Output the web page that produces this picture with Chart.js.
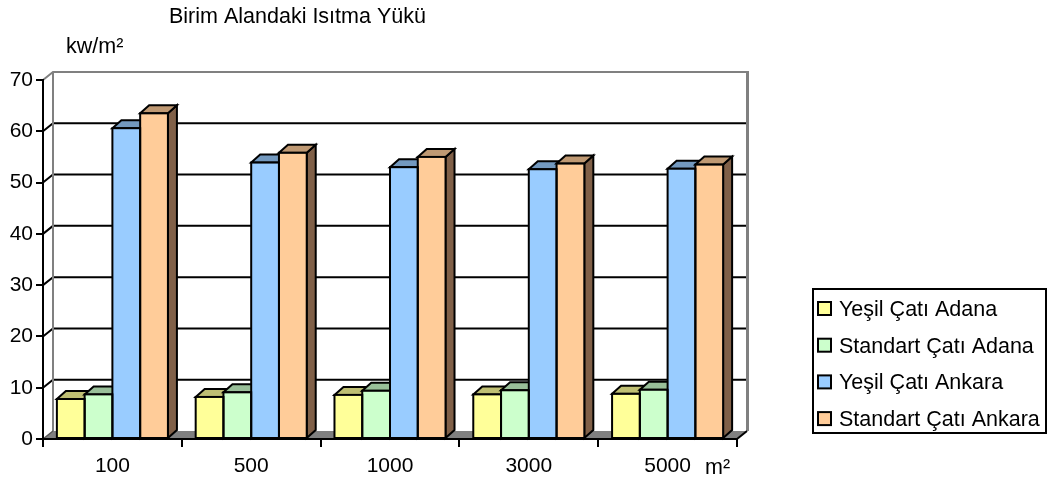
<!DOCTYPE html>
<html>
<head>
<meta charset="utf-8">
<script src="https://cdn.jsdelivr.net/npm/chart.js@4.4.1/dist/chart.umd.min.js"></script>
<style>
  html, body { margin: 0; padding: 0; background: #fff; }
  #wrap { width: 1049px; height: 486px; }
</style>
</head>
<body>
<div id="wrap"><canvas id="chart"></canvas></div>
<script>
// ---- data ----
const categories = ['100', '500', '1000', '3000', '5000'];
const seriesNames = ['Yeşil Çatı Adana', 'Standart Çatı Adana', 'Yeşil Çatı Ankara', 'Standart Çatı Ankara'];
const yesilAdana = [7.8, 8.2, 8.6, 8.7, 8.8];
const standartAdana = [8.7, 9.1, 9.4, 9.5, 9.6];
const yesilAnkara = [60.6, 53.9, 53.0, 52.6, 52.7];
const standartAnkara = [63.5, 55.8, 55.0, 53.7, 53.5];
const yTicks = [0, 10, 20, 30, 40, 50, 60, 70];

const chartTitle = 'Birim Alandaki Isıtma Yükü';
const yUnit = 'kw/m²';
const xUnit = 'm²';

// ---- styles ----
const frontColors = ['#FFFF99', '#CCFFCC', '#99CCFF', '#FFCC99'];
const topColors = ['#BFBF73', '#99BF99', '#7399BF', '#BF9973'];
const sideColors = ['#80804D', '#668066', '#4D6680', '#806048'];
const FONT = "'Liberation Sans', Arial, sans-serif";
const DX = 9, DY = 8;   // bar depth
const WX = 10, WY = 8;  // back wall offset

function poly(ctx, pts, fill, stroke, lw) {
    ctx.beginPath();
    ctx.moveTo(pts[0][0], pts[0][1]);
    for (let k = 1; k < pts.length; k++) ctx.lineTo(pts[k][0], pts[k][1]);
    ctx.closePath();
    if (fill) { ctx.fillStyle = fill; ctx.fill(); }
    if (stroke) { ctx.strokeStyle = stroke; ctx.lineWidth = lw || 2; ctx.stroke(); }
}

const pseudo3d = {
    id: 'pseudo3d',
    // walls, floor and gridlines sit behind the axes
    beforeDraw(chart) {
        const { ctx, chartArea: a, scales: { y } } = chart;
        const left = a.left + WX, right = a.right + WX;
        const top = y.getPixelForValue(70) - WY, bot = y.getPixelForValue(0) - WY;
        ctx.save();
        ctx.lineJoin = 'miter';
        // back wall grid
        yTicks.forEach(v => {
            if (v === 0) return;
            const py = y.getPixelForValue(v);
            ctx.beginPath();
            ctx.moveTo(a.left, py);
            ctx.lineTo(left, py - WY);
            ctx.lineTo(right, py - WY);
            ctx.strokeStyle = v === 70 ? '#808080' : '#000';
            ctx.lineWidth = 2;
            ctx.stroke();
        });
        // wall edges
        ctx.strokeStyle = '#808080';
        ctx.lineWidth = 2;
        ctx.beginPath();
        ctx.moveTo(left, top); ctx.lineTo(left, bot);
        ctx.stroke();
        ctx.lineWidth = 3;
        ctx.beginPath();
        ctx.moveTo(right + 0.5, top - 1); ctx.lineTo(right + 0.5, bot);
        ctx.stroke();
        // floor
        poly(ctx, [[a.left, a.bottom], [left, bot], [right, bot], [a.right, a.bottom]], '#808080');
        ctx.beginPath();
        ctx.moveTo(a.right, a.bottom); ctx.lineTo(right, bot);
        ctx.strokeStyle = '#000'; ctx.lineWidth = 2; ctx.stroke();
        ctx.beginPath();
        ctx.moveTo(a.left, a.bottom); ctx.lineTo(left, bot);
        ctx.strokeStyle = '#555'; ctx.lineWidth = 1.5; ctx.stroke();
        ctx.restore();
    },
    // tops and sides first, fronts are drawn by Chart.js over them
    beforeDatasetsDraw(chart) {
        const ctx = chart.ctx;
        ctx.save();
        ctx.lineJoin = 'miter';
        categories.forEach((c, j) => {
            chart.data.datasets.forEach((ds, i) => {
                const el = chart.getDatasetMeta(i).data[j];
                const x0 = el.x - el.width / 2, x1 = el.x + el.width / 2;
                const yt = el.y, yb = el.base;
                poly(ctx, [[x1, yt], [x1 + DX, yt - DY], [x1 + DX, yb - DY], [x1, yb]], sideColors[i], '#000', 2);
                poly(ctx, [[x0, yt], [x0 + DX, yt - DY], [x1 + DX, yt - DY], [x1, yt]], topColors[i], '#000', 2);
            });
        });
        ctx.restore();
    },
    afterDatasetsDraw(chart) {
        const ctx = chart.ctx;
        ctx.save();
        ctx.strokeStyle = '#000';
        ctx.lineWidth = 2;
        chart.data.datasets.forEach((ds, i) => {
            chart.getDatasetMeta(i).data.forEach(el => {
                ctx.strokeRect(el.x - el.width / 2, el.y, el.width, el.base - el.y);
            });
        });
        ctx.restore();
    },
    afterDraw(chart) {
        const ctx = chart.ctx;
        ctx.save();
        ctx.fillStyle = '#000';
        ctx.font = '21.5px ' + FONT;
        ctx.textBaseline = 'alphabetic';
        ctx.fillText(chartTitle, 169, 23);
        ctx.fillText(yUnit, 66, 53);
        ctx.fillText(xUnit, 705, 474);

        // legend box
        ctx.strokeStyle = '#000';
        ctx.lineWidth = 2;
        ctx.strokeRect(813, 289, 233, 144);
        chart.data.datasets.forEach((ds, i) => {
            const by = 316 + i * 36.7;
            ctx.fillStyle = frontColors[i];
            ctx.fillRect(818, by - 14, 13, 13);
            ctx.strokeRect(818, by - 14, 13, 13);
            ctx.fillStyle = '#000';
            ctx.fillText(ds.label, 839, by);
        });
        ctx.restore();
    }
};

const datasets = [yesilAdana, standartAdana, yesilAnkara, standartAnkara].map((vals, i) => ({
    label: seriesNames[i],
    data: vals,
    backgroundColor: frontColors[i],
    borderWidth: 0,
    categoryPercentage: 0.8,
    barPercentage: 1.0
}));

new Chart(document.getElementById('chart'), {
    type: 'bar',
    data: { labels: categories, datasets: datasets },
    options: {
        responsive: true,
        maintainAspectRatio: false,
        animation: false,
        layout: { padding: { top: 80, right: 312, bottom: 0, left: 0 } },
        plugins: {
            legend: { display: false },
            title: { display: false },
            tooltip: { enabled: false }
        },
        scales: {
            x: {
                afterFit: s => { s.height = 47; },
                grid: { offset: true, drawOnChartArea: false, tickLength: 8, color: '#000', lineWidth: 2 },
                border: { color: '#000', width: 2 },
                ticks: { color: '#000', font: { family: FONT, size: 21 }, padding: 7 }
            },
            y: {
                min: 0,
                max: 70,
                afterFit: s => { s.width = 43; },
                afterBuildTicks: s => { s.ticks = yTicks.map(v => ({ value: v })); },
                grid: { drawOnChartArea: false, tickLength: 7, color: '#000', lineWidth: 2 },
                border: { color: '#000', width: 2 },
                ticks: { color: '#000', font: { family: FONT, size: 21 }, padding: 3 }
            }
        }
    },
    plugins: [pseudo3d]
});
</script>
</body>
</html>
